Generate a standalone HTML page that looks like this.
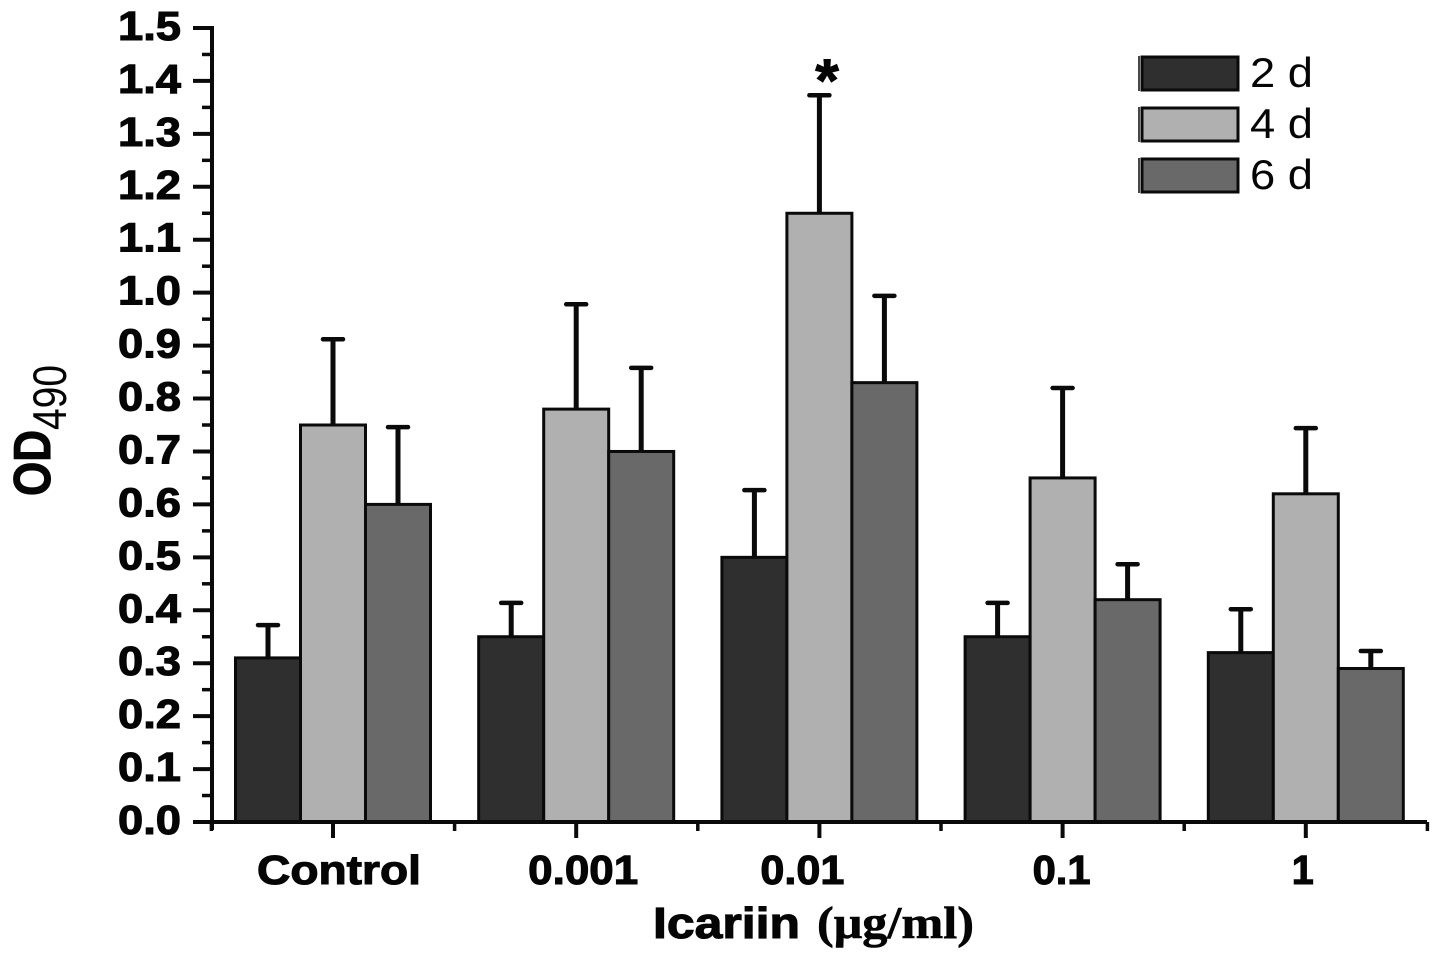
<!DOCTYPE html>
<html>
<head>
<meta charset="utf-8">
<title>OD490 bar chart</title>
<style>
html,body{margin:0;padding:0;background:#fff;}
svg{display:block;}
text{fill:#050505;}
.t{font-family:"Liberation Sans",sans-serif;font-weight:bold;stroke:#050505;stroke-width:1.1px;}
.r{font-family:"Liberation Sans",sans-serif;font-weight:normal;}
.s{font-family:"Liberation Serif",serif;font-weight:bold;stroke:#050505;stroke-width:.6px;}
</style>
</head>
<body>
<svg id="chart" width="1441" height="961" viewBox="0 0 1441 961" xmlns="http://www.w3.org/2000/svg">
  <g id="bars"></g>
  <g id="yaxis"></g>
  <g id="xaxis"></g>
  <text class="t" transform="translate(50,496) rotate(-90)" font-size="52" textLength="66" lengthAdjust="spacingAndGlyphs">OD</text>
  <text class="r" transform="translate(66,430) rotate(-90)" font-size="47" textLength="65" lengthAdjust="spacingAndGlyphs">490</text>
  <text class="t" x="653" y="938" font-size="44" textLength="147" lengthAdjust="spacingAndGlyphs">Icariin</text>
  <text class="s" x="817" y="938" font-size="46" textLength="157" lengthAdjust="spacingAndGlyphs">(μg/ml)</text>
  <text class="t" x="827" y="101" font-size="60" text-anchor="middle">*</text>
  <g id="legend"></g>
</svg>
<script>
const categories = ['Control', '0.001', '0.01', '0.1', '1'];
const seriesNames = ['2 d', '4 d', '6 d'];
const values2d = [0.31, 0.35, 0.50, 0.35, 0.32];
const values4d = [0.75, 0.78, 1.15, 0.65, 0.62];
const values6d = [0.60, 0.70, 0.83, 0.42, 0.29];
const errors2d = [0.062, 0.064, 0.127, 0.064, 0.082];
const errors4d = [0.162, 0.198, 0.223, 0.170, 0.124];
const errors6d = [0.146, 0.158, 0.164, 0.067, 0.033];
const yTicks = ['0.0','0.1','0.2','0.3','0.4','0.5','0.6','0.7','0.8','0.9','1.0','1.1','1.2','1.3','1.4','1.5'];

const seriesValues = [values2d, values4d, values6d];
const seriesErrors = [errors2d, errors4d, errors6d];
const fills = ['#2f2f2f', '#b0b0b0', '#696969'];
const INK = '#0a0a0a';
const NS = 'http://www.w3.org/2000/svg';

function y(v) { return 822 - v * (794 / 1.5); }
function x(i) { return 333 + i * 243.2; }
const BAR_W = 65;

/* label placement relative to the category tick: offset of left edge, drawn width */
function xLabelBox(i) {
  if (i === 0) return {dx: -76, w: 164};
  if (i === 1) return {dx: -48, w: 110};
  if (i === 2) return {dx: -59, w: 84};
  if (i === 3) return {dx: -30, w: 58};
  return {dx: -14, w: 22};
}

function mk(tag, parent, props) {
  const el = document.createElementNS(NS, tag);
  for (const k in props) el.setAttribute(k, props[k]);
  parent.appendChild(el);
  return el;
}

const barsG = document.getElementById('bars');
categories.forEach(function (cat, i) {
  seriesValues.forEach(function (vals, s) {
    const left = x(i) + (s - 1.5) * BAR_W;
    const cx = left + BAR_W / 2;
    const top = y(vals[i]);
    const errTop = y(vals[i] + seriesErrors[s][i]);
    const stem = mk('line', barsG, {x1: cx, x2: cx, y1: errTop, y2: top, stroke: INK, 'stroke-width': 5});
    
    
    const cap = mk('line', barsG, {x1: cx - 10, x2: cx + 10, y1: errTop, y2: errTop, stroke: INK, 'stroke-width': 4.5, 'stroke-linecap': 'round'});
    
    
    const bar = mk('rect', barsG, {x: left, y: top, width: BAR_W, height: 822 - top, fill: fills[s], stroke: INK, 'stroke-width': 3});
    
    
  });
});

const yG = document.getElementById('yaxis');
const yLine = mk('line', yG, {x1: 212, x2: 212, y1: y(1.5) - 2, y2: 830, stroke: INK, 'stroke-width': 4});


yTicks.forEach(function (label, i) {
  const v = parseFloat(label);
  const tick = mk('line', yG, {x1: 193, x2: 212, y1: y(v), y2: y(v), stroke: INK, 'stroke-width': 4});
  
  
  if (i < yTicks.length - 1) {
    const my = y(v + 0.05);
    const minor = mk('line', yG, {x1: 202, x2: 212, y1: my, y2: my, stroke: INK, 'stroke-width': 3.5});
    
    
  }
  const t = mk('text', yG, {class: 't', x: 118, y: y(v) + 12, 'font-size': 41, textLength: 63, lengthAdjust: 'spacingAndGlyphs'});
  t.textContent = label;
  
  
});

const xG = document.getElementById('xaxis');
const xLine = mk('line', xG, {x1: 193, x2: 1427, y1: 822, y2: 822, stroke: INK, 'stroke-width': 4});


categories.forEach(function (cat, i) {
  const tick = mk('line', xG, {x1: x(i), x2: x(i), y1: 822, y2: 838, stroke: INK, 'stroke-width': 4});
  
  
  const box = xLabelBox(i);
  const t = mk('text', xG, {class: 't', x: x(i) + box.dx, y: 884, 'font-size': 41, textLength: box.w, lengthAdjust: 'spacingAndGlyphs'});
  t.textContent = cat;
  
  
});
for (let i = -0.5; i <= categories.length - 0.5; i += 1) {
  const minor = mk('line', xG, {x1: x(i), x2: x(i), y1: 822, y2: 831, stroke: INK, 'stroke-width': 3.5});
  
  
}

const legendG = document.getElementById('legend');
seriesNames.forEach(function (name, s) {
  const top = 57 + s * 51;
  const swatch = mk('rect', legendG, {x: 1142, y: top, width: 96, height: 33, fill: fills[s], stroke: INK, 'stroke-width': 3});
  
  
  const bar = mk('line', legendG, {x1: 1139, x2: 1139, y1: top - 1, y2: top + 34, stroke: INK, 'stroke-width': 1.5});
  
  
  const t = mk('text', legendG, {class: 'r', x: 1250, y: top + 30, 'font-size': 42, textLength: 63, lengthAdjust: 'spacingAndGlyphs'});
  t.textContent = name;
  
  
});
</script>
</body>
</html>
